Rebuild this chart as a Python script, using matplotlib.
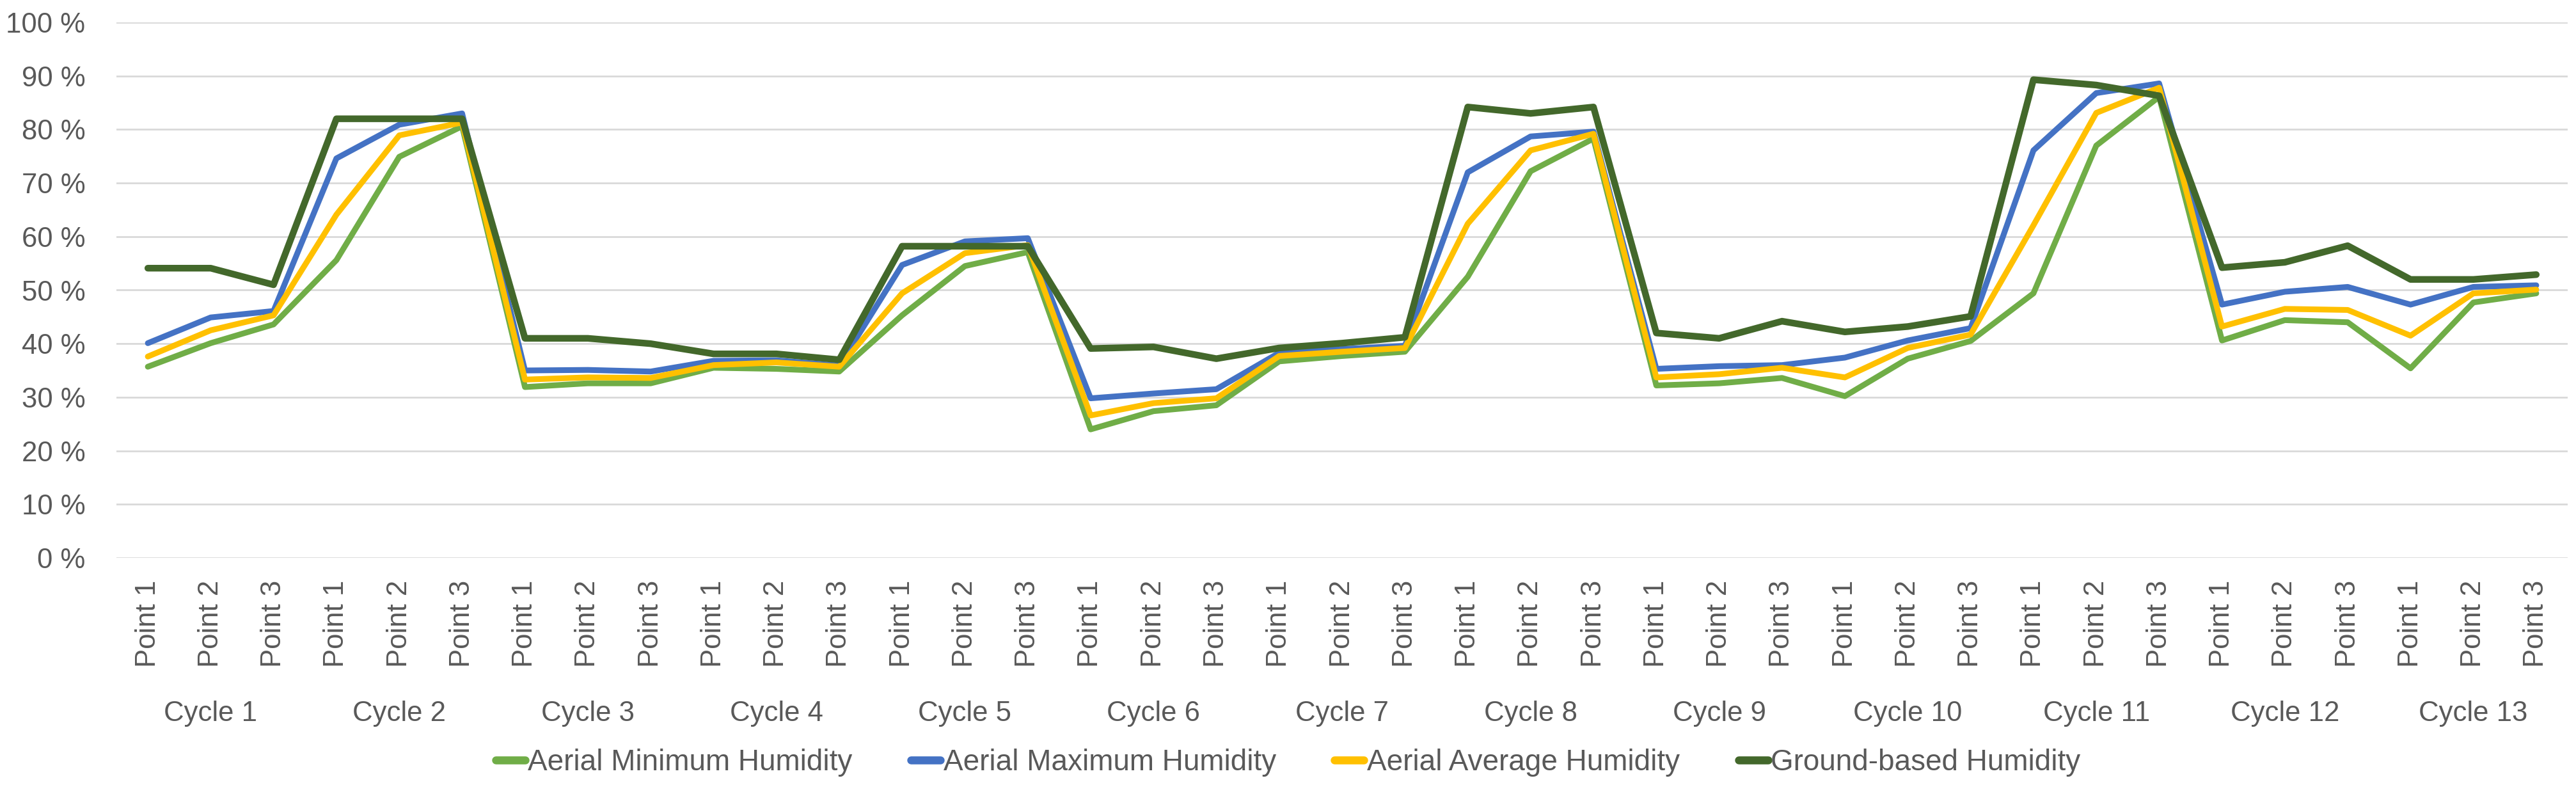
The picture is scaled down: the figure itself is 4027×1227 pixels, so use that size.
import matplotlib.pyplot as plt
import matplotlib.transforms as mtransforms
from matplotlib.lines import Line2D

plt.rcParams['font.family'] = ['Liberation Sans', 'DejaVu Sans']

cycles = ["Cycle %d" % (k + 1) for k in range(13)]
points = ["Point 1", "Point 2", "Point 3"]

aerial_min = [35.7, 40.1, 43.6, 55.6, 74.9, 80.6, 31.9, 32.6, 32.6, 35.5, 35.3, 34.8,
              45.3, 54.5, 57.1, 24.0, 27.4, 28.5, 36.7, 37.7, 38.5, 52.5, 72.2, 78.3,
              32.2, 32.6, 33.6, 30.2, 37.2, 40.5, 49.4, 77.0, 86.1, 40.6, 44.4, 44.0,
              35.4, 47.7, 49.4]
aerial_max = [40.1, 44.9, 46.1, 74.6, 80.9, 83.0, 35.0, 35.1, 34.8, 36.8, 36.9, 35.9,
              54.7, 59.1, 59.7, 29.8, 30.7, 31.5, 38.3, 39.0, 39.6, 72.0, 78.7, 79.6,
              35.3, 35.8, 36.0, 37.4, 40.6, 42.9, 76.1, 86.8, 88.6, 47.3, 49.7, 50.6,
              47.3, 50.6, 50.9]
aerial_avg = [37.6, 42.5, 45.3, 64.1, 78.9, 81.3, 33.3, 33.7, 33.6, 36.0, 36.5, 35.7,
              49.4, 56.9, 58.4, 26.6, 28.9, 29.8, 37.7, 38.5, 39.2, 62.4, 76.1, 79.2,
              33.7, 34.3, 35.5, 33.7, 39.2, 41.7, 62.1, 83.1, 87.8, 43.2, 46.5, 46.3,
              41.5, 49.4, 50.1]
ground = [54.1, 54.1, 51.0, 82.0, 82.0, 82.0, 41.0, 41.0, 40.0, 38.1, 38.1, 37.0,
          58.2, 58.2, 58.2, 39.1, 39.4, 37.2, 39.2, 40.1, 41.2, 84.2, 83.0, 84.2,
          42.0, 41.0, 44.2, 42.2, 43.2, 45.1, 89.3, 88.3, 86.3, 54.2, 55.2, 58.3,
          52.0, 52.0, 52.9]

names = ["Aerial Minimum Humidity", "Aerial Maximum Humidity",
         "Aerial Average Humidity", "Ground-based Humidity"]
colors = ["#70AD47", "#4472C4", "#FFC000", "#43682B"]
widths = [6.5, 6.5, 6.5, 7.5]
txt = "#595959"

fig = plt.figure(figsize=(40.27, 12.27), dpi=100)
ax = fig.add_axes([182 / 4027, 355 / 1227, 3832 / 4027, 837 / 1227])

x = list(range(len(ground)))
for vals, c, lw in zip([aerial_min, aerial_max, aerial_avg, ground], colors, widths):
    ax.plot(x, vals, color=c, lw=lw, solid_joinstyle='round', solid_capstyle='round')

ax.set_xlim(-0.5, len(x) - 0.5)
ax.set_ylim(0, 100)
ax.set_yticks(range(0, 101, 10))
ax.set_yticklabels(["%d %%" % v for v in range(0, 101, 10)])
ax.set_xticks(x)
ax.set_xticklabels(points * len(cycles), rotation=90)
ax.tick_params(axis='y', length=0, pad=35, labelsize=31.5, labelcolor=txt)
ax.tick_params(axis='x', length=0, pad=25, labelsize=31.5, labelcolor=txt)
ax.grid(axis='y', color='#D9D9D9', lw=2)
ax.set_axisbelow(True)
for s in ax.spines.values():
    s.set_visible(False)

trans = mtransforms.blended_transform_factory(ax.transData, fig.transFigure)
for k, name in enumerate(cycles):
    ax.text(3 * k + 1, 1 - 1116 / 1227, name, transform=trans, ha='center', va='center',
            fontsize=31.5, color=txt)

handles = [Line2D([], [], color=c, lw=9, solid_capstyle='round') for c in colors]
fig.legend(handles, names, loc='center', bbox_to_anchor=(0.5, 1 - 1192 / 1227), ncol=4,
           frameon=False, fontsize=33, handlelength=1.0, handletextpad=0.1,
           columnspacing=2.0, labelcolor=txt)

fig.savefig('out.png', dpi=100)
